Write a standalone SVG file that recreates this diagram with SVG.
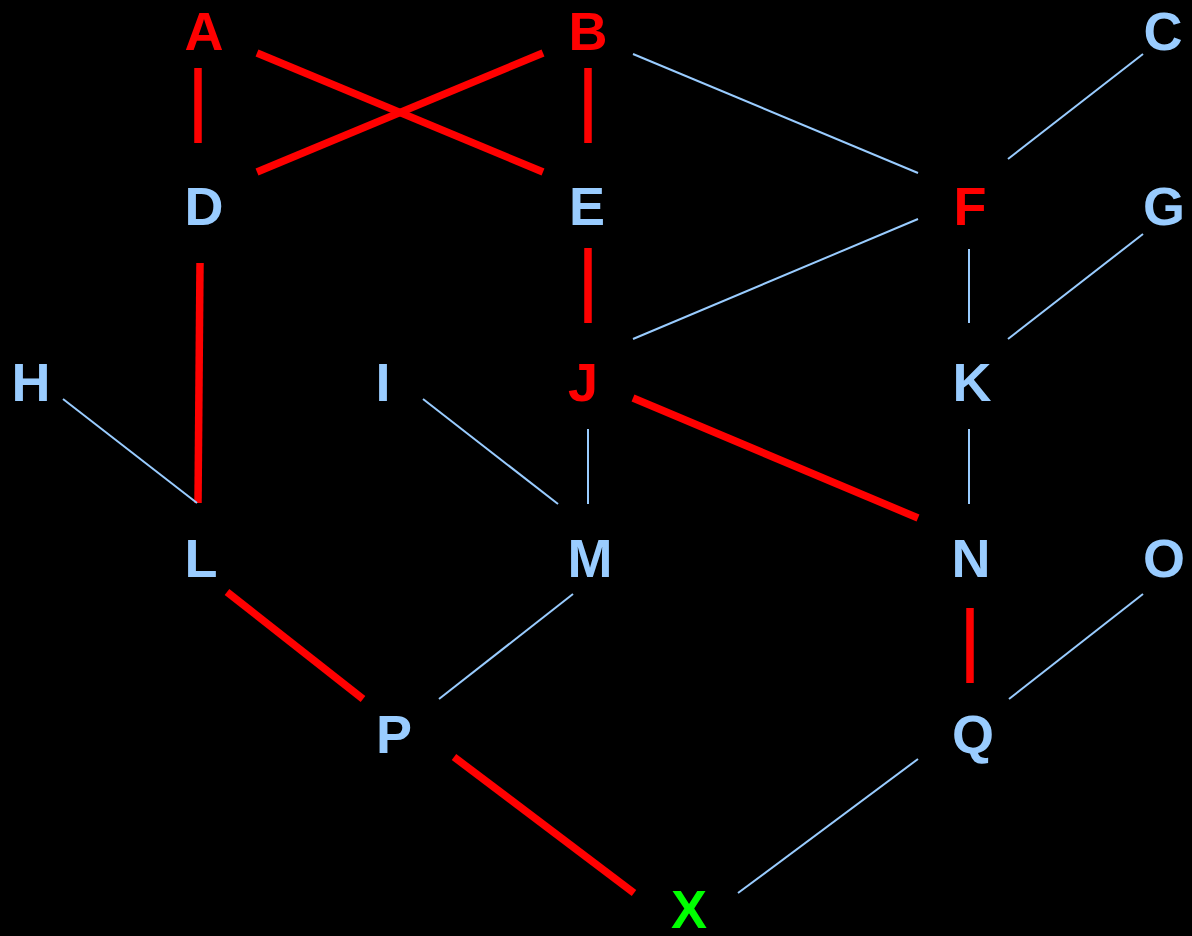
<svg xmlns="http://www.w3.org/2000/svg" width="1192" height="936" viewBox="0 0 1192 936">
<style>
.n{font-family:"Liberation Sans",Arial,sans-serif;font-weight:bold;font-size:54px;text-anchor:middle;fill:#99CCFF}
.r{fill:#FF0000}
.g{fill:#00FF00}
.hot{stroke:#FF0000;stroke-width:7.5;fill:none}
.cold{stroke:#99CCFF;stroke-width:2;fill:none}
</style>
<rect width="1192" height="936" fill="#000000"/>
<g id="connectors">
<line class="hot" x1="198" y1="68" x2="198" y2="143"/>
<line class="hot" x1="257" y1="53" x2="543" y2="172"/>
<line class="hot" x1="543" y1="53" x2="257" y2="172"/>
<line class="hot" x1="588" y1="68" x2="588" y2="143"/>
<line class="hot" x1="588" y1="248" x2="588" y2="323"/>
<line class="hot" x1="200" y1="263" x2="198" y2="503"/>
<line class="hot" x1="633" y1="398" x2="918" y2="518"/>
<line class="hot" x1="227" y1="592" x2="363" y2="699"/>
<line class="hot" x1="454" y1="757" x2="634" y2="893"/>
<line class="hot" x1="970" y1="608" x2="970" y2="683"/>
<line class="cold" x1="633" y1="54" x2="918" y2="173"/>
<line class="cold" x1="1143" y1="54" x2="1008" y2="159"/>
<line class="cold" x1="918" y1="219" x2="633" y2="339"/>
<line class="cold" x1="969" y1="249" x2="969" y2="323"/>
<line class="cold" x1="1143" y1="234" x2="1008" y2="339"/>
<line class="cold" x1="63" y1="399" x2="197" y2="503"/>
<line class="cold" x1="423" y1="399" x2="558" y2="504"/>
<line class="cold" x1="588" y1="429" x2="588" y2="504"/>
<line class="cold" x1="969" y1="429" x2="969" y2="504"/>
<line class="cold" x1="573" y1="594" x2="439" y2="699"/>
<line class="cold" x1="1143" y1="594" x2="1009" y2="699"/>
<line class="cold" x1="918" y1="759" x2="738" y2="893"/>
</g>
<g id="node-A"><text class="n r" x="204" y="50">A</text></g>
<g id="node-B"><text class="n r" x="588" y="50">B</text></g>
<g id="node-C"><text class="n" x="1163" y="50">C</text></g>
<g id="node-D"><text class="n" x="204" y="225">D</text></g>
<g id="node-E"><text class="n" x="587" y="225">E</text></g>
<g id="node-F"><text class="n r" x="970" y="225">F</text></g>
<g id="node-G"><text class="n" x="1164" y="225">G</text></g>
<g id="node-H"><text class="n" x="31" y="401">H</text></g>
<g id="node-I"><text class="n" x="383" y="401">I</text></g>
<g id="node-J"><text class="n r" x="583" y="401">J</text></g>
<g id="node-K"><text class="n" x="972" y="401">K</text></g>
<g id="node-L"><text class="n" x="201" y="577">L</text></g>
<g id="node-M"><text class="n" x="590" y="577">M</text></g>
<g id="node-N"><text class="n" x="971" y="577">N</text></g>
<g id="node-O"><text class="n" x="1164" y="577">O</text></g>
<g id="node-P"><text class="n" x="394" y="753">P</text></g>
<g id="node-Q"><text class="n" x="973" y="753">Q</text></g>
<g id="node-X"><text class="n g" x="689" y="928">X</text></g>
</svg>
